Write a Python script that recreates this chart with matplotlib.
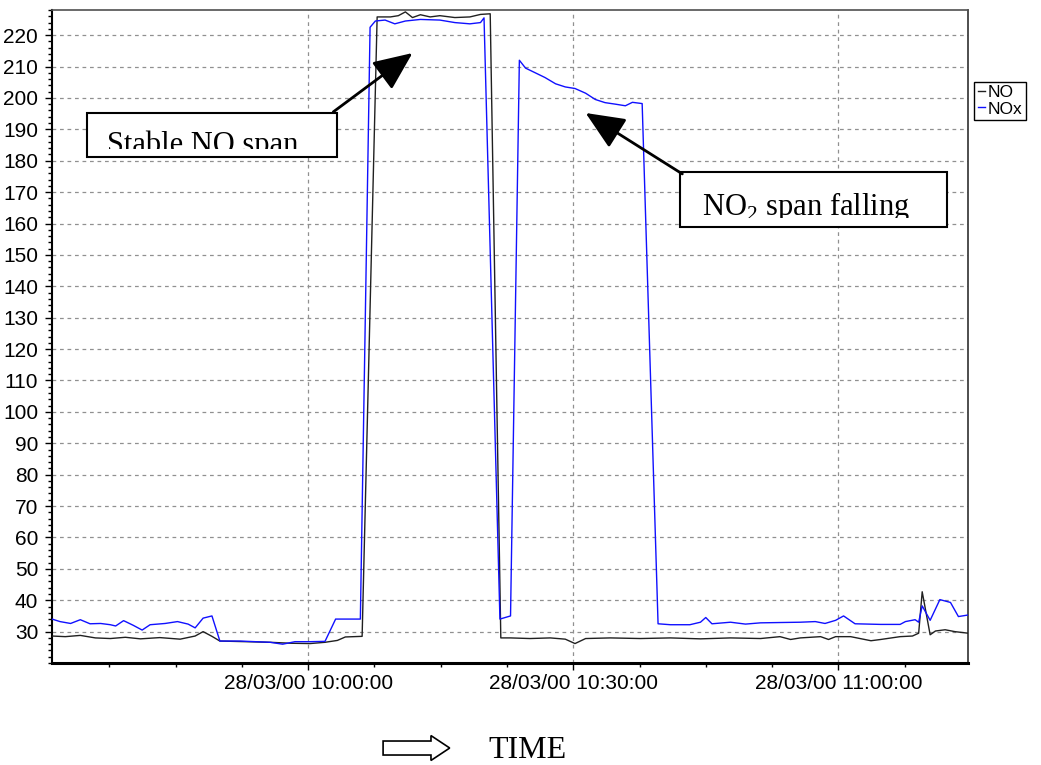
import matplotlib
matplotlib.use('Agg')
import matplotlib.pyplot as plt
import matplotlib.patches as mpatches
from matplotlib.ticker import MultipleLocator, FuncFormatter

plt.rcParams['font.family'] = ['Liberation Sans', 'DejaVu Sans']

# minutes relative to 28/03/00 10:00:00
t_nox = [-29.0, -28.1, -26.9, -25.8, -24.7, -23.5, -22.4, -21.8, -20.9, -19.8,
         -18.8, -17.9, -16.2, -14.8, -13.6, -12.8, -11.9, -10.9, -10.0, -7.7,
         -6.0, -4.3, -2.9, -1.5, 0.2, 1.9, 3.1, 4.8, 5.9, 7.0,
         7.6, 8.7, 9.8, 11.0, 12.7, 14.9, 16.6, 18.3, 19.5, 19.9,
         21.7, 22.9, 23.9, 24.6, 25.7, 26.8, 28.0, 29.1, 30.2, 31.4,
         32.5, 33.6, 34.8, 35.9, 36.7, 37.8, 39.6, 41.0, 43.2, 44.4,
         45.0, 45.7, 47.8, 49.5, 51.2, 53.4, 55.7, 57.4, 58.5, 59.7,
         60.6, 61.9, 64.8, 67.0, 67.6, 68.7, 69.1, 69.5, 70.4, 71.5,
         72.7, 73.6, 74.7]
nox = [34.0, 33.2, 32.6, 33.8, 32.5, 32.6, 32.2, 31.8, 33.5, 32.0,
       30.5, 32.2, 32.6, 33.2, 32.4, 31.2, 34.3, 35.0, 27.0, 27.0,
       26.8, 26.6, 26.0, 26.8, 26.8, 26.9, 34.0, 34.0, 34.0, 222.5,
       224.5, 224.8, 223.6, 224.5, 225.0, 224.8, 224.0, 223.6, 224.0, 225.5,
       34.0, 35.0, 212.0, 209.5, 208.0, 206.5, 204.5, 203.5, 203.0, 201.5,
       199.5, 198.5, 198.0, 197.5, 198.6, 198.2, 32.5, 32.2, 32.2, 33.0,
       34.5, 32.5, 33.0, 32.4, 32.8, 32.9, 33.0, 33.2, 32.6, 33.6,
       35.0, 32.5, 32.3, 32.3, 33.2, 33.8, 33.0, 38.2, 33.6, 40.2,
       39.3, 34.8, 35.3]

t_no = [-29.0, -27.5, -25.8, -24.1, -22.4, -20.7, -19.0, -16.8, -14.5, -12.8,
        -11.9, -10.9, -10.0, -7.1, -4.3, -2.0, 0.2, 1.9, 3.3, 4.2,
        6.1, 7.8, 9.3, 10.2, 11.0, 11.8, 12.7, 13.8, 14.9, 16.6,
        18.3, 19.5, 20.6, 21.8, 22.9, 25.1, 27.4, 29.1, 30.2, 31.4,
        34.2, 37.6, 41.0, 44.4, 47.8, 51.2, 53.4, 54.6, 55.7, 58.0,
        58.9, 59.7, 61.4, 63.7, 64.8, 67.0, 68.4, 69.1, 69.5, 70.4,
        71.0, 72.1, 73.2, 74.7]
no = [28.6, 28.4, 28.8, 28.0, 27.8, 28.2, 27.7, 28.1, 27.6, 28.6,
      30.0, 28.5, 27.0, 26.8, 26.6, 26.3, 26.2, 26.6, 27.2, 28.3,
      28.5, 225.8, 225.8, 226.2, 227.4, 225.6, 226.5, 225.8, 226.2, 225.6,
      225.8, 226.6, 226.8, 28.0, 28.0, 27.8, 28.0, 27.6, 26.2, 27.8,
      28.0, 27.8, 28.0, 27.7, 28.0, 27.8, 28.4, 27.5, 28.0, 28.4,
      27.5, 28.4, 28.4, 27.1, 27.5, 28.4, 28.6, 29.5, 42.7, 29.0,
      30.2, 30.6, 30.0, 29.5]

yticks = list(range(30, 230, 10))


def time_label(m, pos):
    s = int(round((10 * 60 + m) * 60))
    return '28/03/00 %02d:%02d:%02d' % (s // 3600, (s // 60) % 60, s % 60)


fig = plt.figure(figsize=(10.41, 7.65), dpi=100)
ax = fig.add_axes([0.05, 0.1333, 0.88, 0.8536])

ax.plot(t_no, no, color='#202020', lw=1.0, label='NO', zorder=3)
ax.plot(t_nox, nox, color='#1010ff', lw=1.0, label='NOx', zorder=4)

ax.set_xlim(-29.0, 74.7)
ax.set_ylim(20, 228)
ax.set_yticks(yticks)
ax.yaxis.set_minor_locator(MultipleLocator(2))
ax.xaxis.set_major_locator(MultipleLocator(30))
ax.xaxis.set_minor_locator(MultipleLocator(7.5))
ax.xaxis.set_major_formatter(FuncFormatter(time_label))
ax.tick_params(axis='both', which='major', labelsize=15, length=5, width=1, pad=5)
ax.tick_params(axis='x', which='major', pad=3)
ax.tick_params(axis='both', which='minor', length=3, width=1)
ax.grid(True, which='major', color='#909090', ls=(0, (3, 3)), lw=0.9)

ax.spines['left'].set_linewidth(1.5)
ax.spines['bottom'].set_linewidth(2.2)
ax.spines['top'].set_color('#505050')
ax.spines['right'].set_color('#303030')
ax.spines['top'].set_linewidth(1.2)
ax.spines['right'].set_linewidth(1.2)

# annotation boxes
serif = ['Liberation Serif', 'DejaVu Serif']
boxes = [
    ((0.038, 0.775), 0.273, 0.067, (0.060, 0.781), 'Stable NO span', 0.787),
    ((0.686, 0.668), 0.291, 0.084, (0.710, 0.686), r'NO$_\mathregular{2}$ span falling', 0.681),
]
for (x0, y0), w, h, (tx, ty), label, clip_y in boxes:
    ax.add_patch(mpatches.Rectangle((x0, y0), w, h, transform=ax.transAxes,
                                    facecolor='white', edgecolor='black',
                                    lw=1.5, zorder=6))
    txt = ax.text(tx, ty, label, transform=ax.transAxes, family=serif,
                  fontsize=22, va='baseline', ha='left', zorder=7)
    clip = mpatches.Rectangle((x0, clip_y), w, y0 + h - clip_y,
                              transform=ax.transAxes)
    txt.set_clip_on(True)
    txt.set_clip_path(clip)

arrow_style = dict(arrowstyle='-|>,head_length=1.6,head_width=0.7',
                   color='black', lw=2, shrinkA=0, shrinkB=0,
                   mutation_scale=15)
ax.annotate('', xy=(11.8, 214.3), xycoords='data',
            xytext=(0.307, 0.844), textcoords='axes fraction',
            arrowprops=arrow_style, zorder=8)
ax.annotate('', xy=(31.4, 195.2), xycoords='data',
            xytext=(0.688, 0.749), textcoords='axes fraction',
            arrowprops=arrow_style, zorder=8)

fig.legend(loc='upper left', bbox_to_anchor=(0.936, 0.893), fontsize=12.5,
           handlelength=0.4, handletextpad=0.15, borderpad=0.2,
           labelspacing=0.05, fancybox=False, edgecolor='black',
           framealpha=1, borderaxespad=0)

# TIME arrow below the chart
fig.patches.append(mpatches.FancyArrow(
    0.368, 0.0222, 0.046, 0, width=0.0183, head_width=0.0325,
    head_length=0.018, length_includes_head=False, transform=fig.transFigure,
    facecolor='white', edgecolor='black', lw=1.2, figure=fig))
fig.text(0.469, 0.0196, 'TIME', family=serif, fontsize=23, va='center',
         ha='left')

fig.savefig('out.png', dpi=100)
